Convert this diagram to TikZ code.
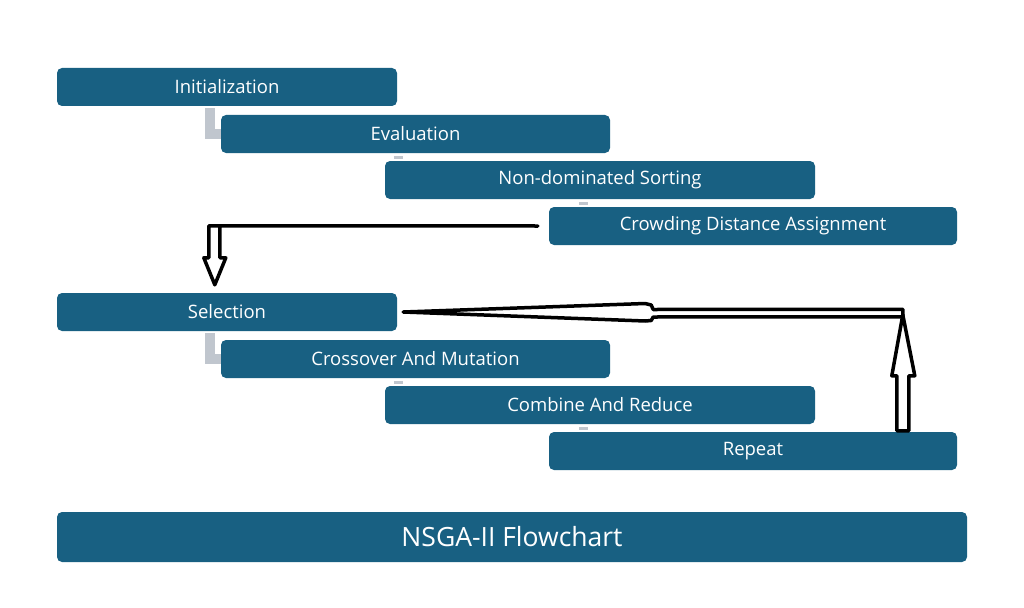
\documentclass[tikz,border=0pt]{standalone}
\usepackage{fontspec}
\setmainfont{Open Sans}
\usetikzlibrary{calc,backgrounds}
\definecolor{boxblue}{RGB}{24,96,130}
\definecolor{connGray}{RGB}{192,198,206}
\tikzset{
  box/.style={draw=none, fill=boxblue, rounded corners=5pt, text=white, inner sep=0pt,
    font=\fontsize{18.5}{21}\selectfont},
  wbox/.style={box, minimum width=#1, minimum height=38pt},
  titlebox/.style={box, minimum width=910pt, minimum height=50pt, font=\fontsize{26.5}{30}\selectfont},
  elbow/.style={draw=connGray, line width=10pt},
  tick/.style={draw=connGray, line width=3pt},
  blk/.style={draw=black, line width=3.5pt, line join=round, line cap=round},
}
\begin{document}
\begin{tikzpicture}[x=1pt,y=-1pt]
\useasboundingbox (0,0) rectangle (1024,607);
% upper group
\node[wbox=340pt] (init) at (227,87) {Initialization};
\node[wbox=389pt] (eval) at (415.5,134) {Evaluation};
\node[wbox=430pt] (nds) at (600,180) {Non-dominated Sorting};
\node[wbox=408pt] (crowd) at (753,226) {Crowding Distance Assignment};
% lower group
\node[wbox=340pt] (sel) at (227,312) {Selection};
\node[wbox=389pt] (cross) at (415.5,359) {Crossover And Mutation};
\node[wbox=430pt] (comb) at (600,405) {Combine And Reduce};
\node[wbox=408pt] (rep) at (753,451) {Repeat};
% title
\node[titlebox] (title) at (512,537) {NSGA-II Flowchart};

\begin{scope}[on background layer]
  \draw[elbow] ($(init.south west)+(153,2)$) |- (eval.west);
  \draw[tick] ($(nds.north west)+(9,-3.5)$) -- ++(9,0);
  \draw[tick] ($(crowd.north west)+(30,-3)$) -- ++(9,0);
  \draw[elbow] ($(sel.south west)+(153,2)$) |- (cross.west);
  \draw[tick] ($(comb.north west)+(9,-3.5)$) -- ++(9,0);
  \draw[tick] ($(rep.north west)+(30,-3)$) -- ++(9,0);
\end{scope}

% arrow from Crowding Distance Assignment down to Selection
\coordinate (a1) at ($(crowd.west)+(-11,0)$);
\coordinate (t1) at ($(sel.north west)+(158,-8)$);
\draw[blk] (a1) -- ($(t1)+(-6,-59)$) -- ($(t1)+(-6,-27)$) -- ($(t1)+(-11,-27)$)
  -- (t1) -- ($(t1)+(11,-27)$) -- ($(t1)+(5,-27)$) -- ($(t1)+(5,-57)$);

% arrow from Repeat up and back to Selection
\coordinate (b0) at ($(rep.north west)+(354,-1)$);
\coordinate (t2) at ($(rep.north west)+(354,-117)$);
\draw[blk] ($(b0)+(-6,0)$) -- ($(t2)+(-6,61)$) -- ($(t2)+(-11,61)$) -- (t2)
  -- ($(t2)+(12,61)$) -- ($(t2)+(6,61)$) -- ($(b0)+(6,0)$) -- cycle;
\coordinate (t3) at ($(sel.east)+(6,0)$);
\draw[blk] (t3) -- ($(t3)+(242,-8.5)$) -- ($(t3)+(248,-7)$) -- ($(t3)+(250,-2.5)$)
  -- ($(t2)+(0,-5.5)$) -- ($(t2)+(0,2)$) -- ($(t3)+(250,5)$) -- ($(t3)+(248,8.5)$)
  -- ($(t3)+(242,9)$) -- cycle;
\end{tikzpicture}
\end{document}
